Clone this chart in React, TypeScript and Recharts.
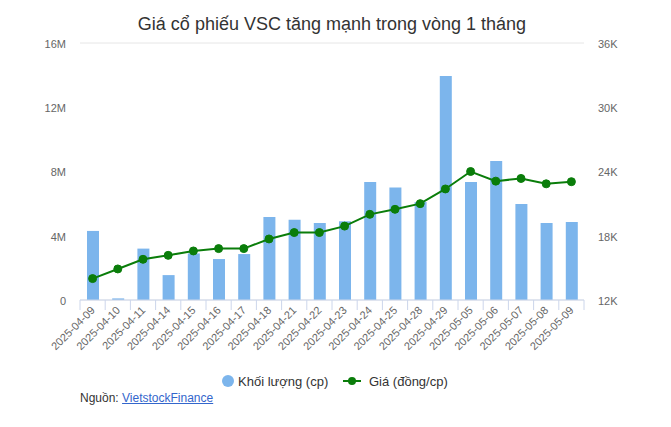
import React from "react";
import { Bar, CartesianGrid, ComposedChart, Line, XAxis, YAxis } from "recharts";

const dates = [
  "2025-04-09", "2025-04-10", "2025-04-11", "2025-04-14", "2025-04-15",
  "2025-04-16", "2025-04-17", "2025-04-18", "2025-04-21", "2025-04-22",
  "2025-04-23", "2025-04-24", "2025-04-25", "2025-04-28", "2025-04-29",
  "2025-05-05", "2025-05-06", "2025-05-07", "2025-05-08", "2025-05-09",
];

// khối lượng (cp)
const volumes = [
  4300000, 100000, 3200000, 1550000, 2900000,
  2550000, 2860000, 5170000, 5000000, 4800000,
  4900000, 7350000, 7000000, 6100000, 13950000,
  7350000, 8650000, 5980000, 4800000, 4860000,
];

// giá (đồng/cp)
const prices = [
  14000, 14900, 15800, 16170, 16580,
  16800, 16800, 17700, 18300, 18300,
  18900, 20000, 20470, 21000, 22370,
  24000, 23100, 23350, 22850, 23050,
];

const volumeTicks = [0, 4000000, 8000000, 12000000, 16000000];
const priceTicks = [12000, 18000, 24000, 30000, 36000];

const data = dates.map((d, i) => ({ date: d, volume: volumes[i], price: prices[i] }));

const FONT = "'Liberation Sans', Arial, sans-serif";
const BAR = "#7cb5ec";
const LINE = "#0a7d0a";
const AXIS = "#ccd6eb";

const fmtVol = (v: number) => (v === 0 ? "0" : `${v / 1000000}M`);
const fmtPrice = (v: number) => `${v / 1000}K`;

const step = 504 / dates.length;

function DateTick(props: any) {
  const { x, y, payload, index } = props;
  const last = index === dates.length - 1;
  return (
    <g>
      <line x1={x - step / 2} x2={x - step / 2} y1={300} y2={310} stroke={AXIS} />
      {last && <line x1={x + step / 2} x2={x + step / 2} y1={300} y2={310} stroke={AXIS} />}
      <text
        x={x + 3}
        y={y + 9}
        textAnchor="end"
        fontSize={11}
        fill="#666"
        fontFamily={FONT}
        transform={`rotate(-45, ${x + 3}, ${y + 9})`}
      >
        {payload.value}
      </text>
    </g>
  );
}

export default function App() {
  return (
    <div style={{ position: "absolute", left: 0, top: 0, width: 671, height: 427, background: "#fff", fontFamily: FONT }}>
      <div
        style={{
          position: "absolute",
          left: 0,
          top: 14,
          width: 664,
          textAlign: "center",
          fontSize: 18,
          color: "#333",
        }}
      >
        Giá cổ phiếu VSC tăng mạnh trong vòng 1 tháng
      </div>
      <ComposedChart
        width={671}
        height={365}
        data={data}
        margin={{ top: 43, right: 0, bottom: 0, left: 0 }}
        barCategoryGap={0}
      >
        <CartesianGrid vertical={false} stroke="#e6e6e6" />
        <XAxis
          dataKey="date"
          height={65}
          interval={0}
          axisLine={{ stroke: AXIS }}
          tickLine={false}
          tickSize={0}
          tick={<DateTick />}
        />
        <YAxis
          yAxisId="vol"
          width={80}
          domain={[0, 16000000]}
          ticks={volumeTicks}
          tickFormatter={fmtVol}
          axisLine={false}
          tickLine={false}
          tickSize={0}
          tickMargin={14}
          tick={{ fontSize: 11, fill: "#666", fontFamily: FONT, dy: 1 }}
        />
        <YAxis
          yAxisId="price"
          orientation="right"
          width={87}
          domain={[12000, 36000]}
          ticks={priceTicks}
          tickFormatter={fmtPrice}
          axisLine={false}
          tickLine={false}
          tickSize={0}
          tickMargin={14}
          tick={{ fontSize: 11, fill: "#666", fontFamily: FONT, dy: 1 }}
        />
        <Bar yAxisId="vol" dataKey="volume" fill={BAR} barSize={12} isAnimationActive={false} />
        <Line
          yAxisId="price"
          dataKey="price"
          stroke={LINE}
          strokeWidth={2}
          dot={{ r: 4, fill: LINE, stroke: LINE, strokeWidth: 1 }}
          isAnimationActive={false}
        />
      </ComposedChart>
      <svg style={{ position: "absolute", left: 0, top: 368 }} width={671} height={26}>
        <circle cx={228} cy={13} r={6} fill={BAR} />
        <text x={238} y={18} fontSize={13} fill="#333" fontFamily={FONT}>
          Khối lượng (cp)
        </text>
        <line x1={343} x2={361} y1={13} y2={13} stroke={LINE} strokeWidth={2} />
        <circle cx={352} cy={13} r={4} fill={LINE} />
        <text x={369} y={18} fontSize={13} fill="#333" fontFamily={FONT}>
          Giá (đồng/cp)
        </text>
      </svg>
      <div style={{ position: "absolute", left: 80, top: 391, fontSize: 12, color: "#333" }}>
        Nguồn:{" "}
        <a href="#" style={{ color: "#3366cc", textDecoration: "underline" }}>
          VietstockFinance
        </a>
      </div>
    </div>
  );
}
